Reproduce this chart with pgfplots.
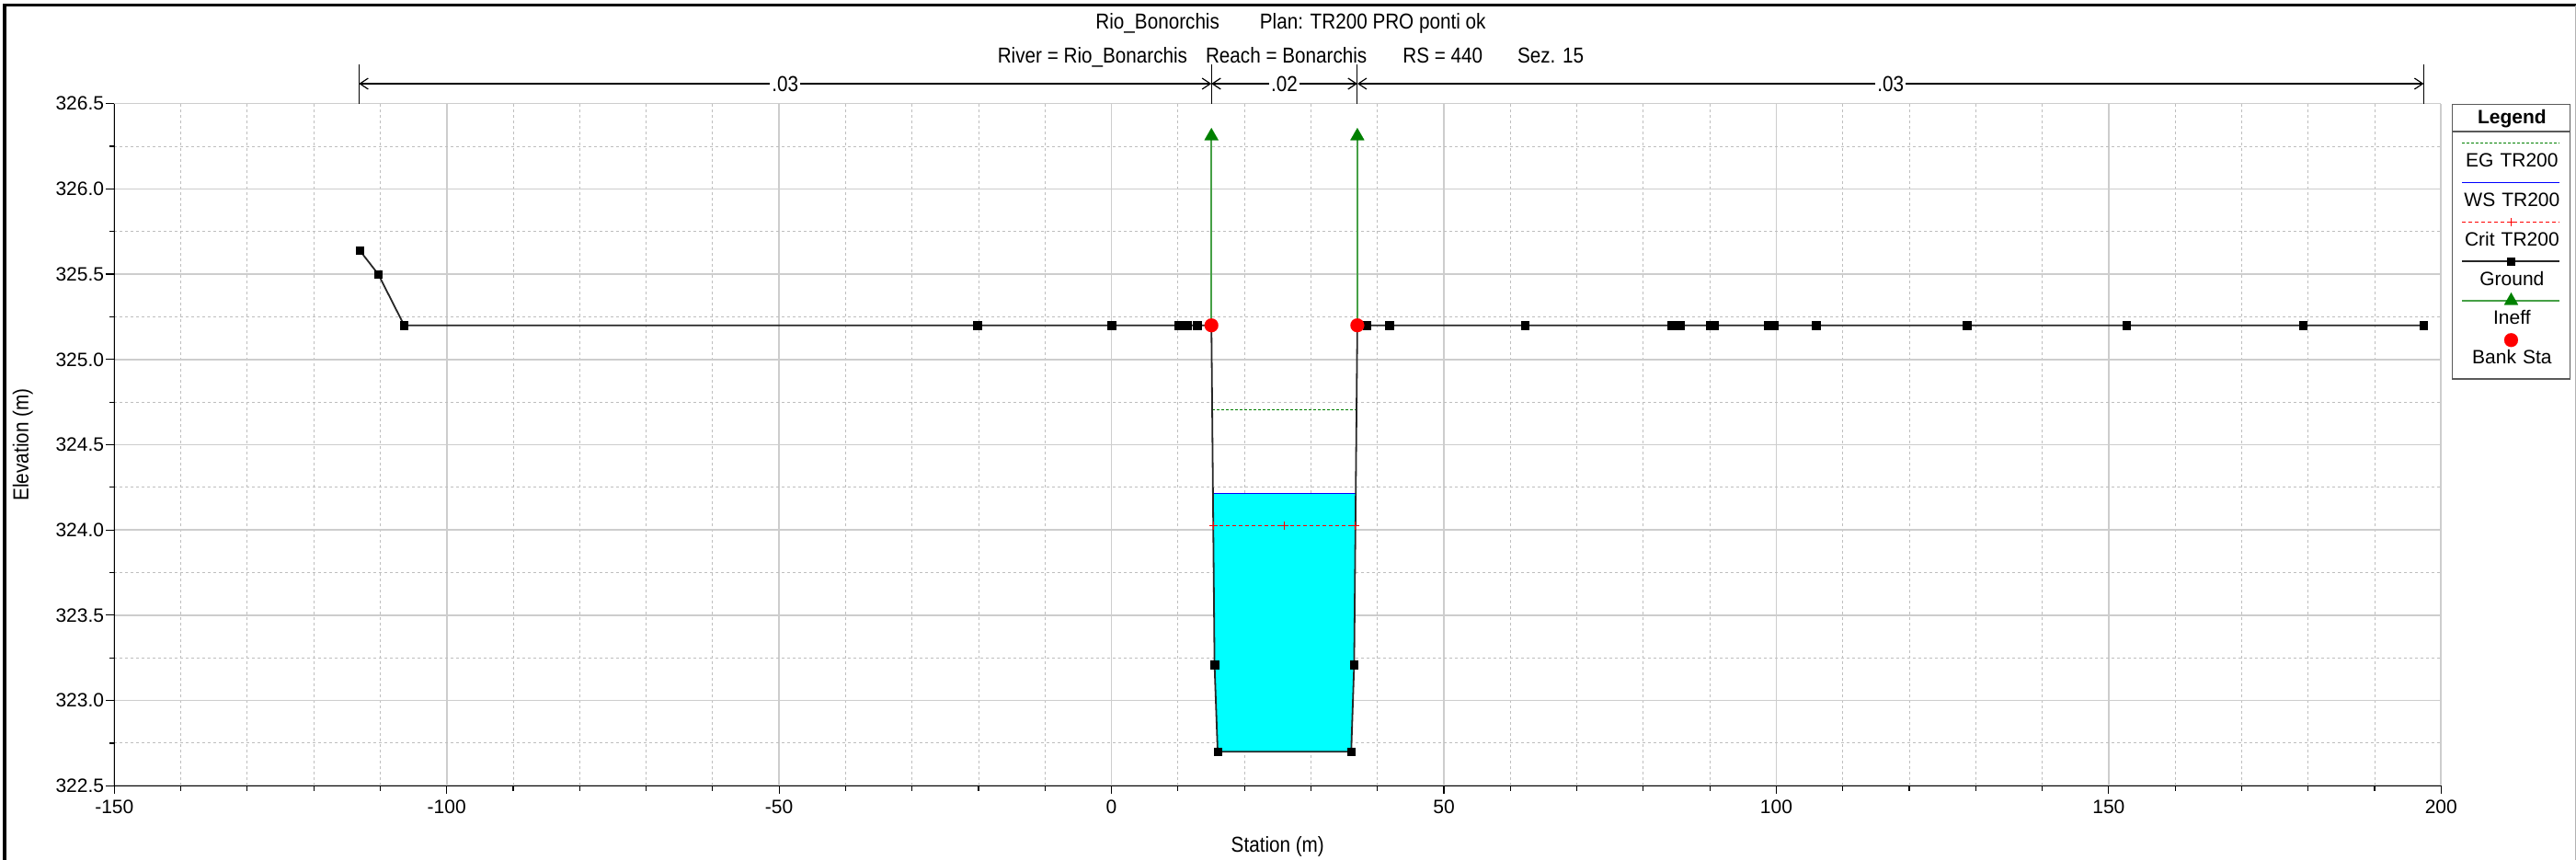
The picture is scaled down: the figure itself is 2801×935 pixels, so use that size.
\documentclass[border=0pt]{standalone}
\usepackage{fontspec}
\setmainfont{Liberation Sans}
\newfontfamily\narrowfont{Liberation Sans}[FakeStretch=0.88]
\usepackage{pgfplots}
\pgfplotsset{compat=1.18}
\usetikzlibrary{arrows.meta}
\definecolor{gridmaj}{RGB}{205,205,205}
\definecolor{gridmin}{RGB}{190,190,190}
\definecolor{egreen}{RGB}{0,128,0}
\definecolor{ineffline}{RGB}{70,160,70}
\definecolor{water}{RGB}{0,255,255}
\definecolor{legbox}{RGB}{90,90,90}
\newcommand{\tickfont}{\fontsize{21bp}{25bp}\selectfont}
\newcommand{\labfont}{\narrowfont\fontsize{23.5bp}{28bp}\selectfont}
\pgfplotsset{
  hecleg/.style={legend image code/.code={%
    \path (0bp,0bp);
    \draw[overlay,##1,mark repeat=2,mark phase=2] plot coordinates {(4.9bp,26bp) (58bp,26bp) (110.9bp,26bp)};}},
}
\tikzset{nbarb/.tip={Straight Barb[length=9bp,width=12bp]}}
\begin{document}
\begin{tikzpicture}
\useasboundingbox (0,0) rectangle (2801bp,935bp);
\begin{axis}[
  at={(124.3bp,80.7bp)}, anchor=south west,
  scale only axis, width=2530bp, height=741.6bp,
  xmin=-150, xmax=200, ymin=322.5, ymax=326.5,
  xtick={-150,-100,...,200},
  minor xtick={-140,-130,...,190},
  ytick={322.5,323,...,326.5},
  minor ytick={322.75,323.25,...,326.25},
  grid=both,
  major grid style={draw=gridmaj, line width=1.6bp, solid},
  minor grid style={draw=gridmin, line width=1bp, dash pattern=on 3bp off 3bp},
  axis x line*=bottom, axis y line*=left,
  axis line style={-, line width=1.4bp, black},
  tick align=outside, major tick length=9bp, minor tick length=5.5bp,
  tick style={black, line width=1.2bp},
  clip=false,
  /pgf/number format/assume math mode=true,
  tick label style={font=\tickfont},
  xticklabel style={anchor=north, inner sep=0pt, yshift=-6.7bp},
  yticklabel style={anchor=east, inner sep=0pt, xshift=-2bp,
    /pgf/number format/.cd, fixed, fixed zerofill, precision=1},
  xlabel={Station (m)}, ylabel={Elevation (m)},
  label style={font=\labfont},
  xlabel style={at={(axis description cs:0.5,-0.0886)}, anchor=center},
  ylabel style={at={(axis description cs:-0.0393,0.5)}, anchor=center},
  legend cell align=center,
  legend style={at={(1,1)}, anchor=north west, xshift=11.4bp,
    draw=legbox, line width=1.5bp, fill=white,
    inner xsep=5.15bp, inner ysep=0bp, row sep=0pt, column sep=0pt,
    cells={anchor=base},
    nodes={font=\tickfont, text width=116bp, align=center, inner sep=0pt,
      text height=38.7bp, text depth=4.1bp}},
]
% water area
\addplot[fill=water, draw=none, forget plot] coordinates {
  (15.26,324.214) (15.5,323.21) (15.97,322.70) (36.06,322.70) (36.5,323.21) (36.74,324.214)} -- cycle;

% legend header
\addlegendimage{legend image code/.code={\path (0bp,0bp);
  \draw[overlay, legbox, line width=1.5bp] (-5.15bp,-8.1bp) -- (121.15bp,-8.1bp);}}
\addlegendentry[font=\bfseries\tickfont, text height=21.5bp, text depth=8.1bp]{Legend}

% EG
\addplot[hecleg, color=egreen, line width=1.3bp, dash pattern=on 3bp off 2bp] coordinates {
  (15.15,324.705) (36.86,324.705)};
\addlegendentry{EG TR200}

% WS
\addplot[hecleg, color=blue, line width=1.8bp] coordinates {
  (15.26,324.214) (36.74,324.214)};
\addlegendentry{WS TR200}

% Crit
\addplot[hecleg, color=red, line width=1.2bp, dash pattern=on 4bp off 3bp,
  mark=+, mark size=4.5bp, mark options={solid, line width=1.2bp}] coordinates {
  (15.31,324.024) (26.0,324.024) (36.70,324.024)};
\addlegendentry{Crit TR200}

% Ground
\addplot[hecleg, color=black!85, line width=1.8bp, mark=square*, mark size=4.2bp,
  mark options={solid, fill=black, draw=black, line width=0.4bp}] coordinates {
  (-113.1,325.64) (-110.3,325.50) (-106.4,325.20) (-20.2,325.20) (0,325.20)
  (10.1,325.20) (11.4,325.20) (12.9,325.20) (15.03,325.20) (15.5,323.21)
  (15.97,322.70) (36.06,322.70) (36.5,323.21) (36.98,325.20) (38.4,325.20)
  (41.8,325.20) (62.2,325.20) (84.2,325.20) (84.8,325.20) (85.5,325.20)
  (90.0,325.20) (90.7,325.20) (98.8,325.20) (99.6,325.20) (106.0,325.20)
  (128.7,325.20) (152.7,325.20) (179.2,325.20) (197.4,325.20)};
\addlegendentry{Ground}

% Ineff
\addplot[hecleg, color=ineffline, line width=1.5bp, mark=triangle*, mark size=8.7bp,
  mark indices={2}, mark options={fill=egreen, draw=egreen, line width=0.1bp}] coordinates {
  (15.03,325.20) (15.03,326.31)};
\addlegendentry{Ineff}
\addplot[forget plot, color=ineffline, line width=1.5bp, mark=triangle*, mark size=8.7bp,
  mark indices={2}, mark options={fill=egreen, draw=egreen, line width=0.1bp}] coordinates {
  (36.98,325.20) (36.98,326.31)};

% Bank Sta
\addplot[hecleg, only marks, mark=*, mark size=7.5bp,
  mark options={fill=red, draw=red, line width=0.1bp}] coordinates {
  (15.03,325.20) (36.98,325.20)};
\addlegendentry[text depth=16.2bp]{Bank Sta}

% Manning's n bar
\draw[black, line width=1.2bp] (axis cs:-113.2,326.5) -- (axis cs:-113.2,326.73);
\draw[black, line width=1.2bp] (axis cs:15.03,326.5) -- (axis cs:15.03,326.73);
\draw[black, line width=1.2bp] (axis cs:36.98,326.5) -- (axis cs:36.98,326.73);
\draw[black, line width=1.2bp] (axis cs:197.4,326.5) -- (axis cs:197.4,326.73);
\draw[black, line width=1.2bp, {nbarb}-{nbarb}] (axis cs:-113.2,326.617) -- node[fill=white, inner xsep=2bp, inner ysep=0pt, font=\labfont] {.03} (axis cs:15.03,326.617);
\draw[black, line width=1.2bp, {nbarb}-{nbarb}] (axis cs:15.03,326.617) -- node[fill=white, inner xsep=2bp, inner ysep=0pt, font=\labfont] {.02} (axis cs:36.98,326.617);
\draw[black, line width=1.2bp, {nbarb}-{nbarb}] (axis cs:36.98,326.617) -- node[fill=white, inner xsep=2bp, inner ysep=0pt, font=\labfont] {.03} (axis cs:197.4,326.617);
\end{axis}
\node[font=\labfont] at (1403.5bp,910bp) {Rio\_Bonorchis\hspace{44bp}Plan: TR200 PRO ponti ok};
\node[font=\labfont] at (1403.5bp,873bp) {River = Rio\_Bonarchis\hspace{20bp}Reach = Bonarchis\hspace{39bp}RS = 440\hspace{38bp}Sez. 15};
\draw[black, line width=3.3bp] (5bp,0bp) -- (5bp,929bp);
\draw[black, line width=3bp] (3.35bp,929bp) -- (2801bp,929bp);
\draw[gray!60, line width=1bp] (2800.5bp,0bp) -- (2800.5bp,929bp);
\end{tikzpicture}
\end{document}
